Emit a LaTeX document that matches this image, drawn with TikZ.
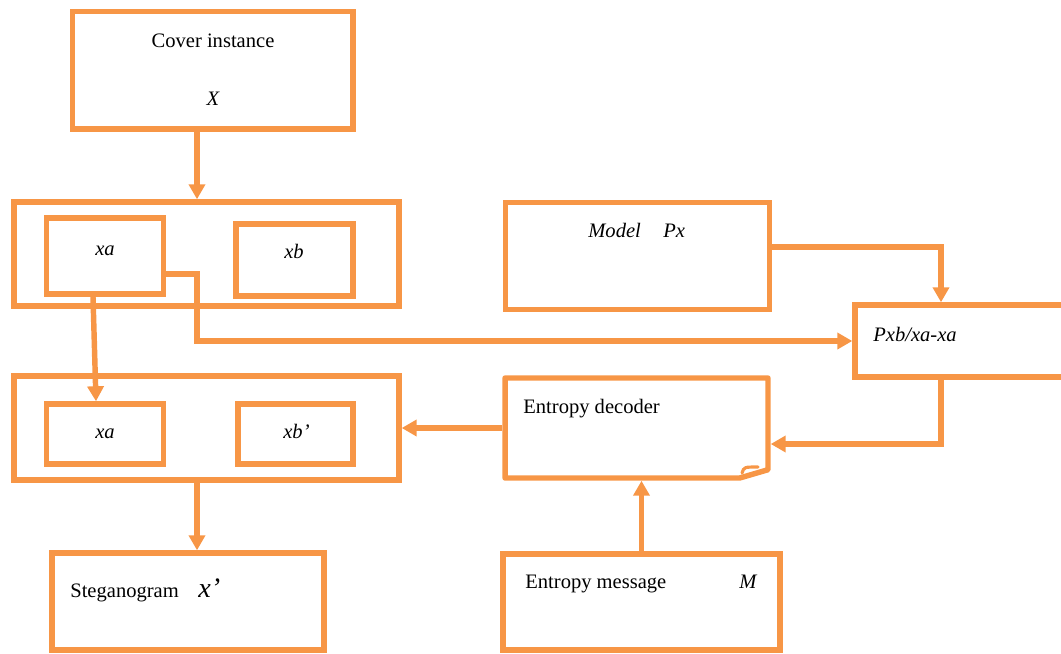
\documentclass[tikz,border=0pt]{standalone}
\usepackage{fontspec}
\setmainfont{Liberation Serif}
\usetikzlibrary{arrows.meta,calc}
\definecolor{orng}{HTML}{F79646}

\begin{document}
\begin{tikzpicture}[x=0.02cm,y=-0.02cm,
		box/.style={draw=orng, line width=3.1pt, inner sep=0},
		txt/.style={inner sep=0, font=\fontsize{11.7}{14}\selectfont},
		arr/.style={draw=orng, line width=3.1pt, -{Triangle[length=0.3cm,width=0.32cm]}}]
				\useasboundingbox (0,0) rectangle (1061,653);
				
				\node[box, minimum width=5.61cm, minimum height=2.35cm] (cover) at (212.75,70.25) {};
				\node[txt, anchor=base] (covername) at (213,47) {Cover instance};
				\node[txt, anchor=base] (coverx) at (213,105) {\itshape X};
				
				\node[box, minimum width=7.7cm, minimum height=2.08cm] (cont1) at (206.5,254) {};
				\node[box, minimum width=2.34cm, minimum height=1.52cm] (xa1) at (105,256) {};
				\node[box, minimum width=2.34cm, minimum height=1.44cm] (xb1) at (294.5,260) {};
				\node[txt, anchor=base] (xaone) at (105,255) {\itshape xa};
				\node[txt, anchor=base] (xbone) at (294,258) {\itshape xb};
				
				\node[box, minimum width=7.7cm, minimum height=2.08cm] (cont2) at (206.5,428) {};
				\node[box, minimum width=2.34cm, minimum height=1.2cm] (xa2) at (105,434) {};
				\node[box, minimum width=2.3cm, minimum height=1.2cm] (xb2) at (295.5,434) {};
				\node[txt, anchor=base] (xatwo) at (105,438) {\itshape xa};
				\node[txt, anchor=base west] (xbtwo) at (283,438) {\itshape xb’};
				
				\node[box, minimum width=5.28cm, minimum height=2.14cm] (model) at (637.5,256) {};
				\node[txt, anchor=base west] (modelname) at (588,237) {\itshape Model};
				\node[txt, anchor=base west] (modelpx) at (663,237) {\itshape Px};
				
				\node[box, minimum width=4.4cm, minimum height=1.44cm] (pxb) at (965,341) {};
				\node[txt, anchor=base west] (pxbname) at (873,341) {\itshape Pxb/xa-xa};
				
				\node[box, draw=none, minimum width=5.26cm, minimum height=2cm] (dec) at (636.5,428) {};
				\draw[draw=orng, line width=3.1pt, line join=round]
					([shift={(1.55pt,-1.55pt)}]dec.north west) -- ([shift={(-1.55pt,-1.55pt)}]dec.north east)
					-- ([shift={(-1.55pt,0.22cm)}]dec.south east) -- ([shift={(-0.62cm,1.55pt)}]dec.south east)
					-- ([shift={(1.55pt,1.55pt)}]dec.south west) -- cycle;
				\draw[draw=orng, line width=1.8pt, line cap=round] (742,473) .. controls (744,467) .. (758,467);
				\node[txt, anchor=base west] (decname) at (523,413) {Entropy decoder};
				
				\node[box, minimum width=5.44cm, minimum height=1.94cm] (steg) at (188,601.5) {};
				\node[txt, anchor=base west] (stegname) at (70,597) {Steganogram};
				\node[txt, anchor=base west, font=\fontsize{16}{18}\selectfont] (stegx) at (198,597) {\itshape x’};
				
				\node[box, minimum width=5.54cm, minimum height=1.92cm] (msg) at (641.5,602) {};
				\node[txt, anchor=base west] (msgname) at (525,588) {Entropy message};
				\node[txt, anchor=base west] (msgm) at (739,588) {\itshape M};
				
				\coordinate (colx) at (197,0);
				\draw[arr] (cover.south -| colx) -- (cont1.north -| colx);
				\draw[arr] ([xshift=-0.24cm]xa1.south) -- ([xshift=-0.18cm]xa2.north);
				\draw[arr] ([yshift=-0.36cm]xa1.east) -| (colx |- pxb.west) -- (pxb.west);
				\draw[arr] ([yshift=0.18cm]model.east) -| ([xshift=-0.48cm]pxb.north);
				\draw[arr] ([xshift=-0.48cm]pxb.south) |- ([yshift=-0.32cm]dec.east);
				\draw[arr] (dec.west) -- (dec.west -| cont2.east);
				\draw[arr] (cont2.south -| colx) -- (steg.north -| colx);
				\draw[arr] (msg.north) -- (msg.north |- dec.south);
			\end{tikzpicture}
\end{document}
